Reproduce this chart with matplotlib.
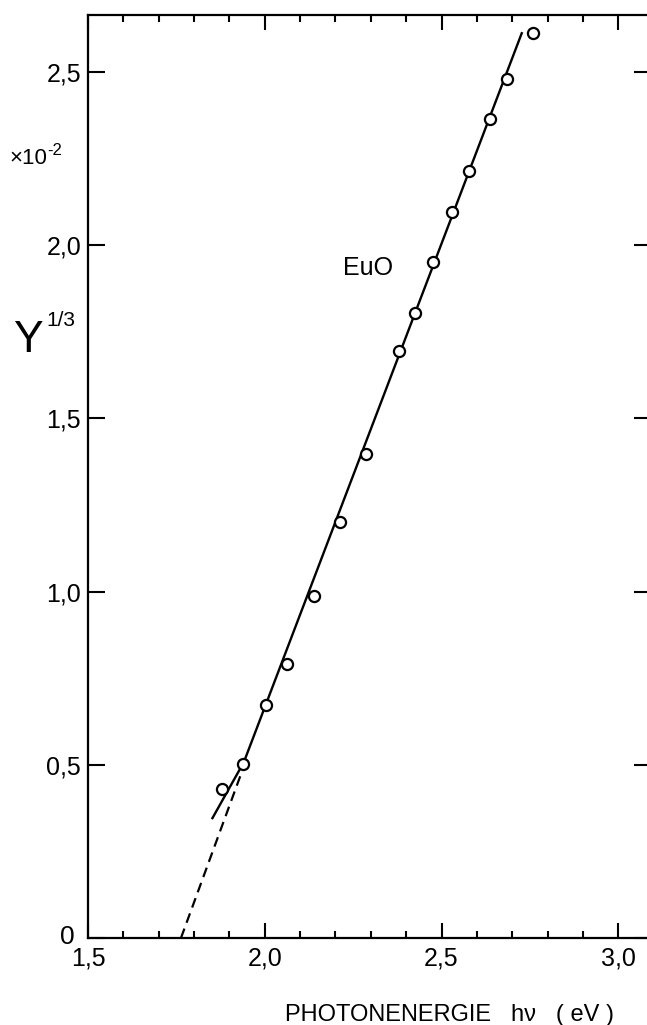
import matplotlib
matplotlib.use("Agg")
import matplotlib.pyplot as plt
import matplotlib.transforms as mtransforms
from matplotlib.ticker import MultipleLocator

plt.rcParams['font.family'] = ['Liberation Sans Narrow', 'Liberation Sans', 'DejaVu Sans']

# measured points (photon energy, Y^1/3 in units of 1e-2)
hv = [1.878, 1.939, 2.003, 2.063, 2.139, 2.213, 2.286, 2.380, 2.425, 2.476, 2.530, 2.578, 2.637, 2.685, 2.758]
y13 = [0.430, 0.503, 0.674, 0.791, 0.987, 1.201, 1.397, 1.695, 1.804, 1.952, 2.096, 2.213, 2.363, 2.480, 2.612]

# drawn fit line and its extrapolation
fit_x = [1.852, 1.941, 2.727]
fit_y = [0.346, 0.508, 2.612]
extra_x = [1.763, 1.936]
extra_y = [0.0, 0.482]

xticks = [1.5, 2.0, 2.5, 3.0]
xlabels = ['1,5', '2,0', '2,5', '3,0']
yticks = [0.0, 0.5, 1.0, 1.5, 2.0, 2.5]
ylabels = ['0', '0,5', '1,0', '1,5', '2,0', '2,5']

W, H = 647, 1025
fig = plt.figure(figsize=(W / 100, H / 100), dpi=100)
# right edge of the frame lies just outside the picture
ax = fig.add_axes([88 / W, (H - 938) / H, (651 - 88) / W, (938 - 15) / H])

ax.plot(fit_x, fit_y, color='black', lw=1.7, zorder=2)
ax.plot(extra_x, extra_y, color='black', lw=1.6, dashes=(4.5, 2.8), zorder=2)
ax.plot(hv, y13, 'o', ms=8, mfc='white', mec='black', mew=1.6, zorder=3)

ax.set_xlim(1.5, 1.5 + (651 - 88) / 353.5)
ax.set_ylim(0, (938 - 15) / 346.4)

ax.set_xticks(xticks)
ax.set_xticklabels(xlabels)
ax.xaxis.set_minor_locator(MultipleLocator(0.1))
ax.set_yticks(yticks)
ax.set_yticklabels(ylabels)

ax.tick_params(axis='x', which='major', direction='in', length=11, width=1.5,
               top=True, labelsize=18, pad=6)
ax.tick_params(axis='x', which='minor', direction='in', length=5, width=1.5, top=True)
ax.tick_params(axis='y', which='major', direction='in', length=12, width=1.5,
               right=True, labelsize=18, pad=5)
for s in ax.spines.values():
    s.set_linewidth(1.6)
ax.spines['right'].set_visible(False)

# the "0" sits a little left and above the corner
lab0 = ax.get_yticklabels()[0]
lab0.set_transform(lab0.get_transform() +
                   mtransforms.ScaledTranslation(-6 / 100, 4 / 100, fig.dpi_scale_trans))
lab0.set_fontsize(19)

ax.text(2.292, 1.934, 'EuO', fontsize=18, ha='center', va='center')


def px(x, y):
    return x / W, 1 - y / H


fig.text(*px(9, 164), '×10', fontsize=16, ha='left', va='baseline')
fig.text(*px(47, 155), '-2', fontsize=12, ha='left', va='baseline')
fig.text(*px(13, 352), 'Y', fontsize=32, ha='left', va='baseline')
fig.text(*px(46, 326), '1/3', fontsize=15, ha='left', va='baseline')
fig.text(*px(449, 1021), 'PHOTONENERGIE   hν   ( eV )', fontsize=17, ha='center', va='baseline')

fig.savefig('out.png', dpi=100)
